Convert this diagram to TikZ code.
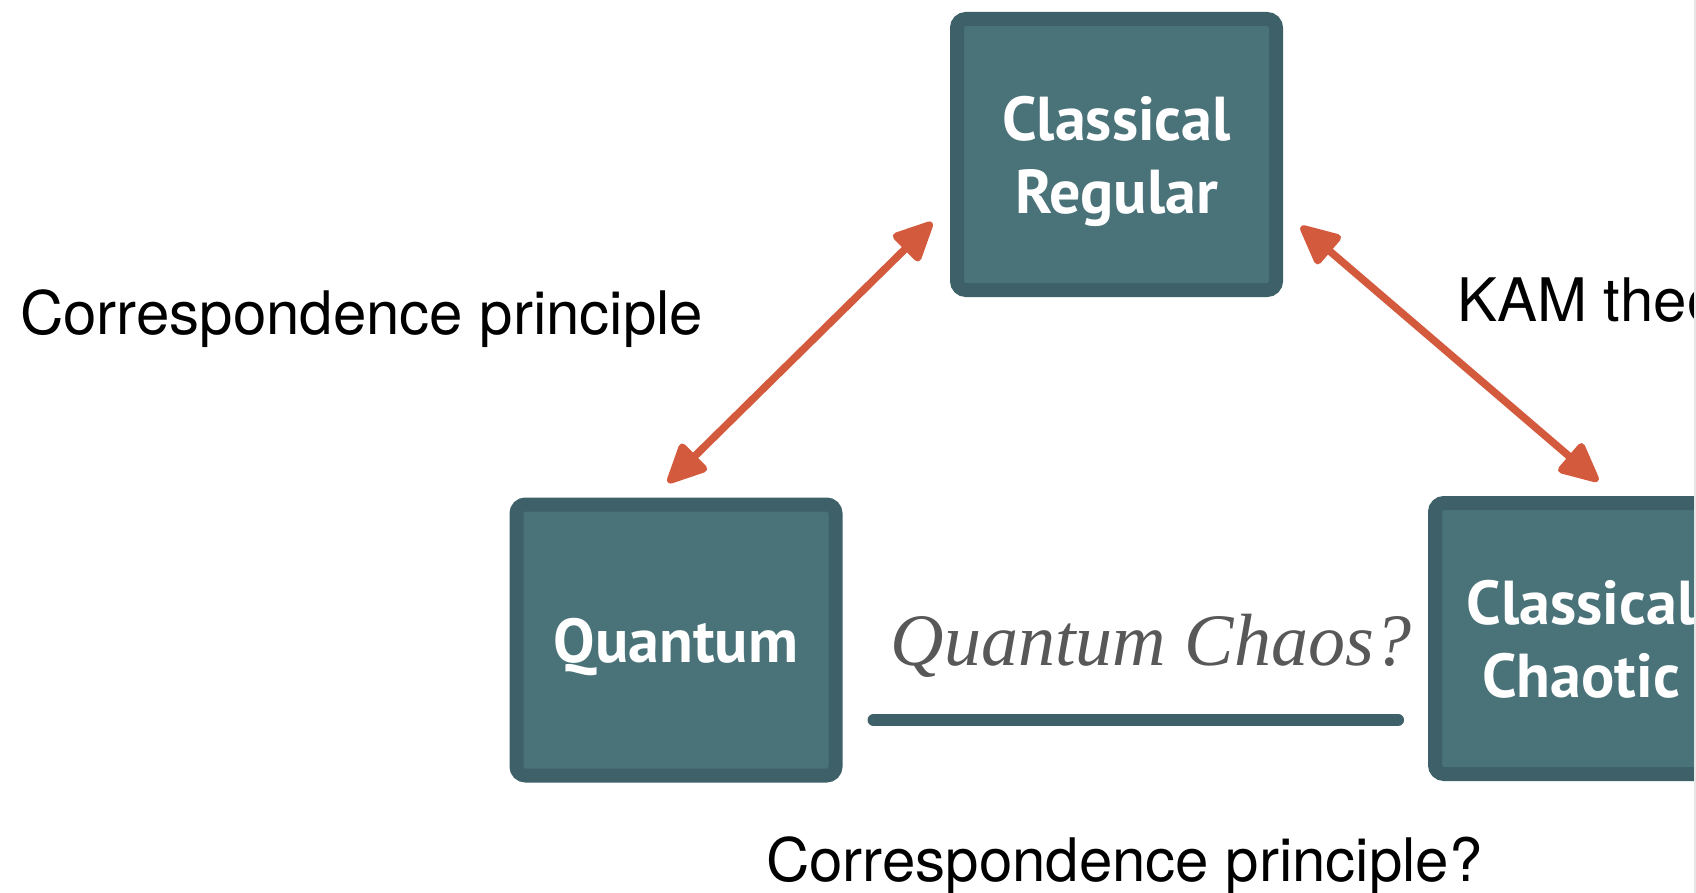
\documentclass[tikz,border=0pt]{standalone}
\usepackage{fontspec}
\usetikzlibrary{arrows.meta,calc}
\newfontfamily\helv{TeX Gyre Heros}
\newfontfamily\boxfam{PT Sans}
\newfontfamily\qserif{Liberation Serif}
\definecolor{boxin}{RGB}{73,114,121}
\definecolor{boxrim}{RGB}{62,97,105}
\definecolor{arrred}{RGB}{212,90,62}
\definecolor{qgray}{RGB}{88,88,88}
\tikzset{
  stage/.style={draw=boxrim, fill=boxin, line width=14pt, rounded corners=9pt,
    minimum width=319pt, minimum height=271pt, inner sep=0pt, align=center,
    text depth=0pt,
    text=white, font=\boxfam\bfseries\fontsize{62}{73}\selectfont},
  bothway/.style={draw=arrred, line width=7.5pt, line cap=round,
    {Triangle[round,length=44pt,width=40pt]}-{Triangle[round,length=44pt,width=40pt]}},
  remark/.style={font=\helv\fontsize{60}{72}\selectfont, anchor=base west, inner sep=0pt, text=black},
  qtitle/.style={font=\qserif\itshape\fontsize{74}{86}\selectfont, anchor=base, inner sep=0pt, text=qgray},
  bar/.style={draw=boxrim, line width=12pt, line cap=round},
}
\begin{document}
\begin{tikzpicture}[x=1pt,y=-1pt]
\useasboundingbox (0,0) rectangle (1696,893);
\clip (0,0) rectangle (1696,893);
\fill[white] (0,0) rectangle (1696,893);

\node[stage] (CR) at (1116.5,154.5) {Classical\\Regular};
\node[stage] (Q) at (676,640) {Quantum};
\node[stage, minimum width=292pt] (CH) at (1581,638.5) {Classical\\Chaotic};

\node[remark] (cp1) at (20,334) {Correspondence principle};
\node[remark] (kam) at (1457,321) {KAM theory};
\node[remark] (cp2) at (766,881) {Correspondence principle?};
\node[qtitle] (qc) at (1151,665) {Quantum Chaos?};

\draw[bothway] ($(Q.north)+(-8,-15)$) -- ($(CR.west)+(-18,68)$);
\draw[bothway] ($(CR.east)+(18,72)$) -- ($(CH.north)+(17,-15)$);
\draw[bar] ($(Q.east)+(31,80)$) -- ($(CH.west)+(-30,81.5)$);

\fill[black!10] (1693.5,0) rectangle (1696,893);
\end{tikzpicture}
\end{document}
